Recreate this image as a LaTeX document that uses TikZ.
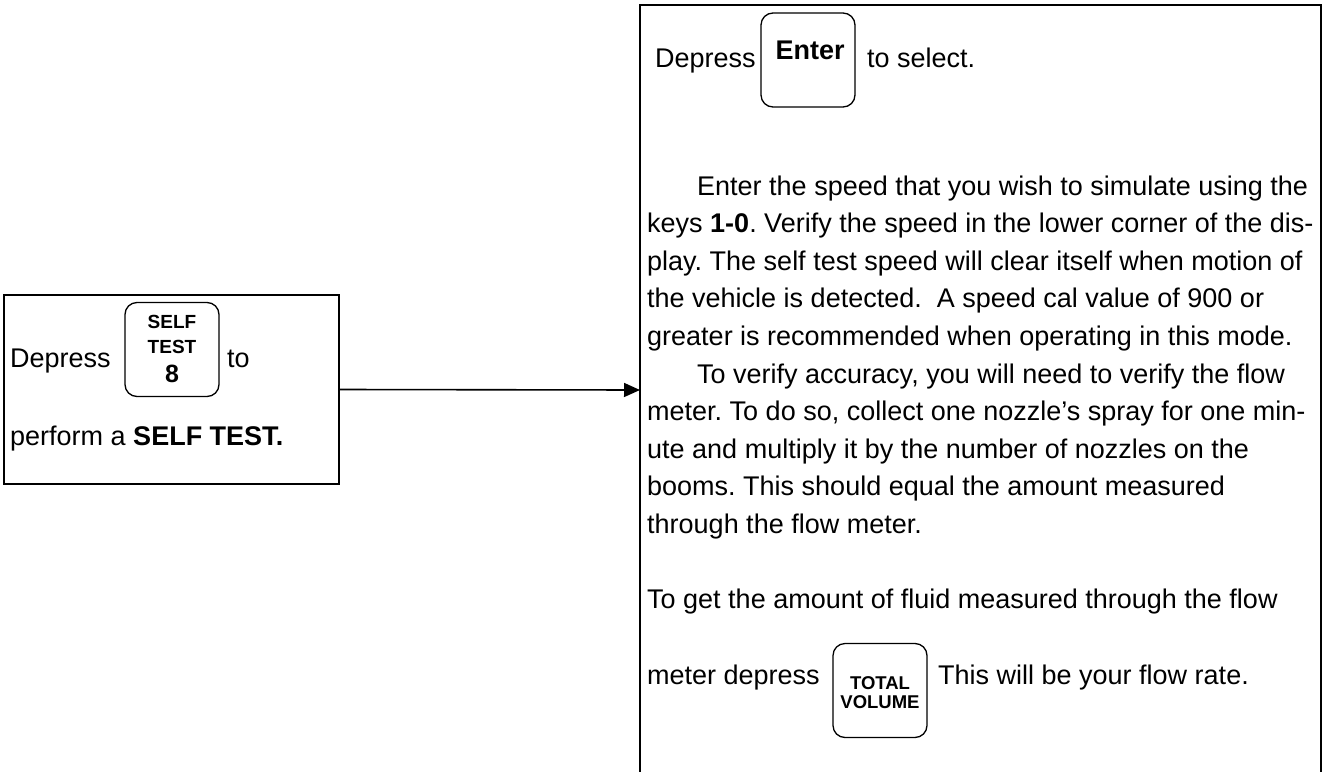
\documentclass[tikz,border=0pt]{standalone}
\usepackage{fontspec}
\setmainfont{Liberation Sans}
\usetikzlibrary{arrows.meta}
\frenchspacing
\begin{document}
\begin{tikzpicture}[x=1pt,y=-1pt,
  txt/.style={anchor=base west, inner sep=0pt, font=\fontsize{27}{32}\selectfont},
  keybox/.style={draw, line width=1.3pt, rounded corners=12pt, minimum width=94pt, minimum height=94pt, inner sep=0pt},
  keylab/.style={anchor=base, inner sep=0pt, font=\bfseries\fontsize{19}{22}\selectfont},
  frame/.style={line width=1.8pt},
]
\useasboundingbox (0,0) rectangle (1327,771);
% left box
\node[draw, frame, minimum width=335pt, minimum height=189pt, inner sep=0pt] (lbox) at (171.5,389.5) {};
\node[keybox] (kself) at (172,349.5) {};
\node[keylab] (selfa) at (172,328) {SELF};
\node[keylab] (selfb) at (172,353) {TEST};
\node[keylab, font=\bfseries\fontsize{25}{28}\selectfont] (selfc) at (172,382) {8};
\node[txt] (ldep) at (10,367) {Depress};
\node[txt] (lto) at (227,367) {to};
\node[txt] (lperf) at (10,445) {perform a \textbf{SELF TEST.}};
% right box
\draw[frame] (640,780) -- (640,5) -- (1321,5) -- (1321,780);
\coordinate (rin) at (640,390);
\draw[line width=1.6pt, -{Triangle[length=16pt,width=14pt]}] (lbox.east) -- (rin);
% Enter line
\node[keybox] (kenter) at (808,60) {};
\node[keylab, font=\bfseries\fontsize{27}{30}\selectfont] (enterlab) at (810,59) {Enter};
\node[txt] (rdep) at (655,67) {Depress};
\node[txt] (rsel) at (867,67) {to select.};
% paragraph
\node[txt] (l1) at (697,195) {Enter the speed that you wish to simulate using the};
\node[txt] (l2) at (647,232.6) {keys \textbf{1-0}. Verify the speed in the lower corner of the dis-};
\node[txt] (l3) at (647,270.2) {play. The self test speed will clear itself when motion of};
\node[txt] (l4) at (647,307.8) {the vehicle is detected.\ \ A speed cal value of 900 or};
\node[txt] (l5) at (647,345.4) {greater is recommended when operating in this mode.};
\node[txt] (l6) at (697,383) {To verify accuracy, you will need to verify the flow};
\node[txt] (l7) at (647,420.6) {meter. To do so, collect one nozzle’s spray for one min-};
\node[txt] (l8) at (647,458.2) {ute and multiply it by the number of nozzles on the};
\node[txt] (l9) at (647,495.8) {booms. This should equal the amount measured};
\node[txt] (l10) at (647,533.4) {through the flow meter.};
\node[txt] (l12) at (647,608.6) {To get the amount of fluid measured through the flow};
\node[txt] (l14) at (647,684) {meter depress};
\node[keybox] (ktotal) at (880,690.5) {};
\node[keylab, font=\bfseries\fontsize{18.5}{21}\selectfont] (tota) at (880,689) {TOTAL};
\node[keylab, font=\bfseries\fontsize{18.5}{21}\selectfont] (totb) at (880,708) {VOLUME};
\node[txt] (l14b) at (938,684) {This will be your flow rate.};
\end{tikzpicture}
\end{document}
